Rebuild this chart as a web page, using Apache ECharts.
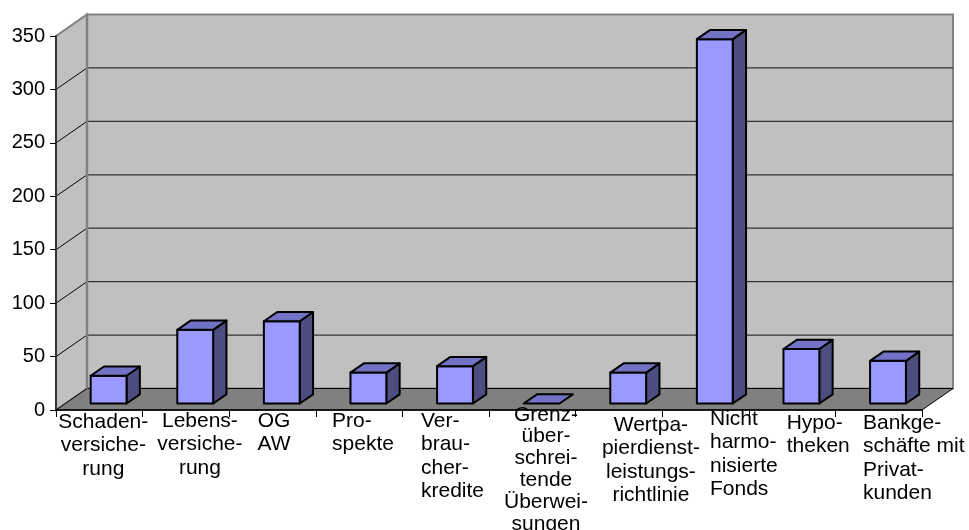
<!DOCTYPE html>
<html>
<head>
<meta charset="utf-8">
<script src="https://cdn.jsdelivr.net/npm/echarts@6/dist/echarts.min.js"></script>
<style>
  html, body { margin: 0; padding: 0; background: #ffffff; }
  #chart { width: 969px; height: 530px; }
</style>
</head>
<body>
<div id="chart"></div>
<script>
// categories (line breaks as in the original wrapped labels)
const categories = [
  "Schaden-\nversiche-\nrung",
  "Lebens-\nversiche-\nrung",
  "OG\nAW",
  "Pro-\nspekte",
  "Ver-\nbrau-\ncher-\nkredite",
  "Grenz-\nüber-\nschrei-\ntende\nÜberwei-\nsungen",
  "Wertpa-\npierdienst-\nleistungs-\nrichtlinie",
  "Nicht\nharmo-\nnisierte\nFonds",
  "Hypo-\ntheken",
  "Bankge-\nschäfte mit\nPrivat-\nkunden"
];
const values = [26, 69, 77, 29, 35, 0, 29, 341, 51, 40];
const yTicks = [0, 50, 100, 150, 200, 250, 300, 350];

// label placement tweaks (the excel labels are not evenly aligned)
const labelAlign = ["center", "center", "center", "left", "left", "center", "center", "left", "left", "left"];
const labelShift = [4, 14, 1.5, -27, -24.7, 13.7, 32, 4.5, -5.4, -15.7];
const labelDy = [0, -1, -1, -1, -1, -6, 3, -3, 1, 1];
const labelLH = [23.5, 23.5, 23.5, 23.5, 23.5, 21.8, 23.5, 23.5, 23.5, 23.5];

// 3d depth of the plot box
const DX = 31, DY = -21.5;
const F1 = 0.3, F2 = 0.73;

const chart = echarts.init(document.getElementById("chart"));

function renderWalls(params, api) {
  const cs = params.coordSys;
  const x0 = cs.x, x1 = cs.x + cs.width;
  const yb = api.coord([0, yTicks[0]])[1];
  const yt = api.coord([0, yTicks[yTicks.length - 1]])[1];
  const kids = [];
  // back wall
  kids.push({
    type: "polygon",
    shape: { points: [[x0 + DX, yt + DY], [x1 + DX, yt + DY], [x1 + DX, yb + DY], [x0 + DX, yb + DY]] },
    style: { fill: "#c0c0c0", stroke: "#808080", lineWidth: 2 }
  });
  // left side wall
  kids.push({
    type: "polygon",
    shape: { points: [[x0, yt], [x0 + DX, yt + DY], [x0 + DX, yb + DY], [x0, yb]] },
    style: { fill: "#c0c0c0", stroke: "#808080", lineWidth: 2 }
  });
  // floor
  kids.push({
    type: "polygon",
    shape: { points: [[x0, yb], [x0 + DX, yb + DY], [x1 + DX, yb + DY], [x1, yb]] },
    style: { fill: "#808080", stroke: "#000000", lineWidth: 1 }
  });
  // grid lines
  yTicks.slice(1, -1).forEach(t => {
    const y = api.coord([0, t])[1];
    kids.push({
      type: "line",
      shape: { x1: x0 + DX, y1: y + DY, x2: x1 + DX, y2: y + DY },
      style: { stroke: "#333333", lineWidth: 1.2 }
    });
    kids.push({
      type: "line",
      shape: { x1: x0, y1: y, x2: x0 + DX, y2: y + DY },
      style: { stroke: "#000000", lineWidth: 1 }
    });
  });
  // back wall left edge
  kids.push({
    type: "line",
    shape: { x1: x0 + DX, y1: yt + DY, x2: x0 + DX, y2: yb + DY },
    style: { stroke: "#808080", lineWidth: 2.5 }
  });
  return { type: "group", children: kids };
}

function renderBar(params, api) {
  const i = api.value(0);
  const v = api.value(1);
  const top = api.coord([i, v]);
  const base = api.coord([i, 0]);
  const bw = api.size([1, 0])[0] * 0.414;
  const ax = top[0] - bw / 2 + F1 * DX;
  const bx = ax + bw;
  const ty = top[1] + F1 * DY;
  const by = base[1] + F1 * DY;
  const ddx = (F2 - F1) * DX, ddy = (F2 - F1) * DY;
  const line = { stroke: "#000000", lineWidth: 2, lineJoin: "round" };
  const kids = [];
  if (by - ty > 0.5) {
    kids.push({
      type: "polygon",
      shape: { points: [[bx, ty], [bx + ddx, ty + ddy], [bx + ddx, by + ddy], [bx, by]] },
      style: Object.assign({ fill: "#4d4d80" }, line)
    });
    kids.push({
      type: "rect",
      shape: { x: ax, y: ty, width: bw, height: by - ty },
      style: Object.assign({ fill: "#9999ff" }, line)
    });
  }
  kids.push({
    type: "polygon",
    shape: { points: [[ax, ty], [ax + ddx, ty + ddy], [bx + ddx, ty + ddy], [bx, ty]] },
    style: Object.assign({ fill: "#7373c6" }, line)
  });
  // category label
  kids.push({
    type: "text",
    style: {
      text: categories[i],
      x: base[0] + labelShift[i],
      y: base[1] + labelDy[i],
      align: labelAlign[i],
      verticalAlign: "top",
      font: "21px 'Liberation Sans', Arial, sans-serif",
      lineHeight: labelLH[i],
      fill: "#000000"
    }
  });
  return { type: "group", children: kids };
}

const option = {
  animation: false,
  backgroundColor: "#ffffff",
  grid: { left: 56, right: 47, top: 36, bottom: 120 },
  xAxis: {
    type: "category",
    data: categories,
    axisLine: { show: true, lineStyle: { color: "#000000", width: 1.5 } },
    axisTick: { show: true, interval: 0, length: 7, lineStyle: { color: "#000000", width: 1 } },
    axisLabel: { show: false },
    splitLine: { show: false }
  },
  yAxis: {
    type: "value",
    min: 0,
    max: 350,
    interval: 50,
    axisLine: { show: true, lineStyle: { color: "#333333", width: 2 } },
    axisTick: { show: true, length: 6, lineStyle: { color: "#000000", width: 1 } },
    axisLabel: {
      color: "#000000",
      fontSize: 20,
      fontFamily: "'Liberation Sans', Arial, sans-serif",
      margin: 11
    },
    splitLine: { show: false }
  },
  series: [
    {
      type: "custom",
      z: -1,
      silent: true,
      renderItem: renderWalls,
      data: [[0, 0]]
    },
    {
      type: "custom",
      z: 3,
      renderItem: renderBar,
      encode: { x: 0, y: 1 },
      data: values.map((v, i) => [i, v])
    }
  ]
};

chart.setOption(option);
</script>
</body>
</html>
